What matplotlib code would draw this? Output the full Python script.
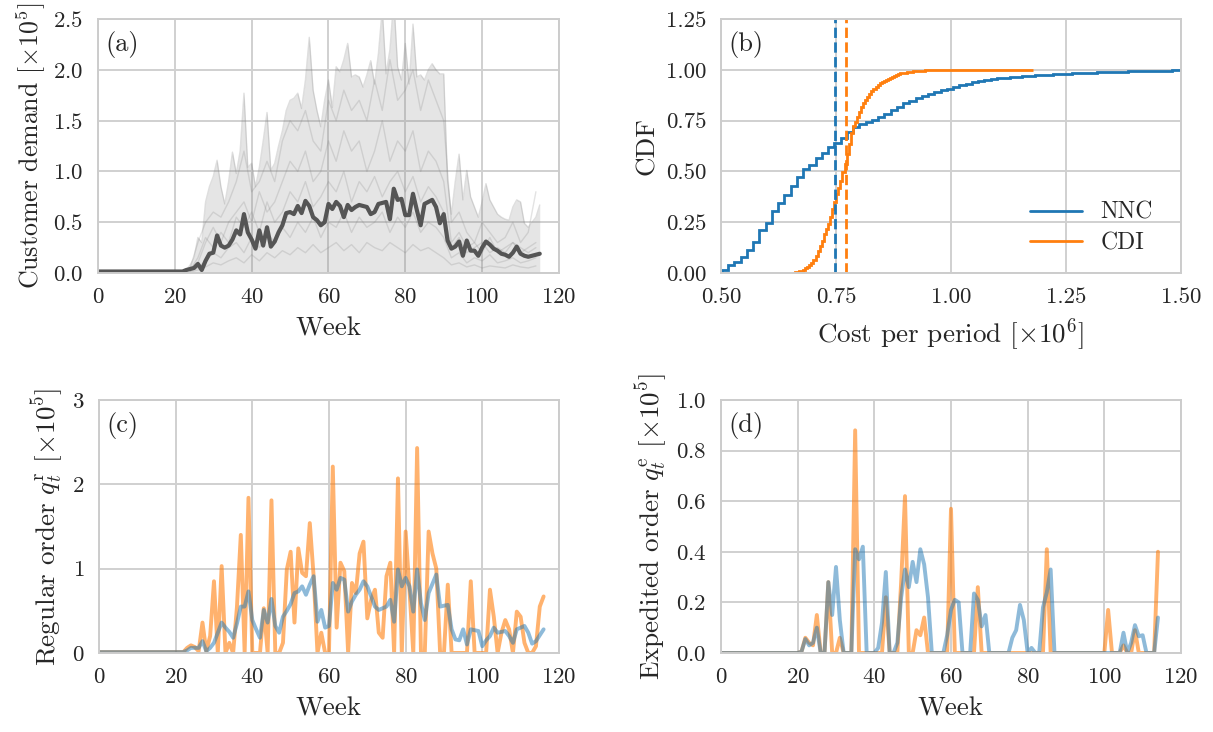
import numpy as np
import matplotlib
matplotlib.use("Agg")
import matplotlib.pyplot as plt
import seaborn as sns

# ---- data (demand / orders in units of 1e5, cost in 1e6) ----

# (a) customer demand: mean over samples, upper envelope, a few sample paths
demand_mean = [0.015] * 23 + [
    0.03, 0.04, 0.05, 0.09, 0.03, 0.12, 0.19, 0.20, 0.37, 0.27,
    0.25, 0.27, 0.33, 0.42, 0.38, 0.58, 0.40, 0.33, 0.24, 0.42,
    0.27, 0.45, 0.26, 0.31, 0.40, 0.47, 0.59, 0.60, 0.58, 0.66,
    0.59, 0.71, 0.66, 0.55, 0.52, 0.47, 0.50, 0.68, 0.63, 0.70,
    0.66, 0.55, 0.67, 0.62, 0.65, 0.67, 0.66, 0.65, 0.58, 0.60,
    0.68, 0.69, 0.70, 0.53, 0.83, 0.72, 0.73, 0.57, 0.57, 0.78,
    0.62, 0.47, 0.68, 0.70, 0.72, 0.65, 0.49, 0.58, 0.32, 0.24,
    0.26, 0.31, 0.17, 0.32, 0.22, 0.22, 0.17, 0.25, 0.31, 0.28,
    0.24, 0.22, 0.19, 0.18, 0.16, 0.20, 0.26, 0.19, 0.17, 0.16,
    0.17, 0.18, 0.19]
demand_max = [0.015] * 23 + [
    0.03, 0.08, 0.15, 0.35, 0.30, 0.70, 0.85, 0.95, 1.11, 0.85,
    0.68, 0.90, 1.19, 0.98, 1.20, 1.77, 1.04, 1.08, 0.85, 1.04,
    1.30, 1.58, 1.01, 1.08, 1.25, 1.40, 1.60, 1.70, 1.72, 1.77,
    1.62, 1.90, 2.32, 1.80, 1.60, 1.44, 1.70, 1.90, 1.63, 2.03,
    1.98, 2.10, 2.26, 1.93, 1.95, 1.93, 1.83, 1.95, 2.09, 1.86,
    2.16, 2.60, 1.96, 2.20, 2.70, 2.03, 1.90, 2.26, 1.86, 2.45,
    1.93, 1.95, 1.90, 2.00, 2.06, 2.00, 1.96, 1.96, 0.91, 0.58,
    0.90, 1.17, 0.72, 1.01, 0.75, 0.65, 0.55, 0.70, 0.88, 0.72,
    0.65, 0.58, 0.55, 0.53, 0.52, 0.65, 0.72, 0.70, 0.49, 0.45,
    0.50, 0.55, 0.67]
demand_min = 0.01

# sample paths, every second week from week 24
sample_1 = [0.05, 0.30, 0.50, 0.60, 0.55, 0.70, 0.90, 1.20, 0.80, 0.90,
            1.10, 0.90, 1.30, 1.50, 1.40, 1.60, 1.30, 1.20, 1.70, 1.50,
            1.80, 1.60, 1.70, 1.50, 1.90, 1.60, 2.10, 1.70, 1.80, 2.00,
            1.60, 1.90, 1.70, 1.50, 0.50, 0.60, 0.40, 0.30, 0.50, 0.40,
            0.30, 0.35, 0.50, 0.30, 0.40, 0.80]
sample_2 = [0.02, 0.10, 0.30, 0.45, 0.30, 0.50, 0.60, 0.70, 0.50, 0.80,
            0.60, 0.70, 0.90, 1.10, 1.00, 1.20, 0.90, 1.00, 1.30, 1.10,
            1.40, 1.20, 1.30, 1.00, 1.20, 1.50, 1.10, 1.30, 1.20, 1.40,
            1.00, 1.20, 1.10, 0.90, 0.30, 0.40, 0.25, 0.30, 0.20, 0.35,
            0.20, 0.25, 0.30, 0.20, 0.25, 0.30]
sample_3 = [0.02, 0.05, 0.12, 0.20, 0.15, 0.25, 0.30, 0.20, 0.35, 0.25,
            0.40, 0.30, 0.45, 0.35, 0.50, 0.40, 0.55, 0.35, 0.50, 0.45,
            0.60, 0.40, 0.55, 0.45, 0.50, 0.60, 0.40, 0.55, 0.45, 0.60,
            0.40, 0.50, 0.45, 0.35, 0.15, 0.20, 0.10, 0.15, 0.12, 0.18,
            0.10, 0.12, 0.15, 0.10, 0.12, 0.15]
sample_4 = [0.01, 0.03, 0.06, 0.10, 0.08, 0.12, 0.15, 0.10, 0.18, 0.12,
            0.20, 0.15, 0.22, 0.18, 0.25, 0.20, 0.28, 0.20, 0.25, 0.30,
            0.22, 0.28, 0.20, 0.30, 0.25, 0.22, 0.30, 0.25, 0.20, 0.28,
            0.22, 0.25, 0.20, 0.15, 0.08, 0.10, 0.06, 0.08, 0.05, 0.07,
            0.06, 0.05, 0.08, 0.06, 0.05, 0.07]
sample_5 = [0.03, 0.15, 0.35, 0.25, 0.40, 0.30, 0.55, 0.45, 0.60, 0.40,
            0.70, 0.50, 0.60, 0.80, 0.70, 0.90, 0.65, 0.75, 0.90, 0.80,
            1.00, 0.70, 0.90, 0.80, 0.95, 0.75, 0.90, 1.00, 0.80, 0.95,
            0.70, 0.85, 0.75, 0.60, 0.25, 0.35, 0.20, 0.25, 0.30, 0.20,
            0.25, 0.20, 0.30, 0.25, 0.20, 0.25]
demand_samples = [sample_1, sample_2, sample_3, sample_4, sample_5]

# (b) empirical CDF of cost per period (step values) and the means
nnc_start, nnc_width = 0.488, 0.0136
nnc_cdf = [0.008, 0.015, 0.039, 0.056, 0.080, 0.113, 0.154, 0.212, 0.244, 0.305,
           0.343, 0.384, 0.428, 0.471, 0.510, 0.531, 0.564, 0.589, 0.622, 0.638,
           0.663, 0.695, 0.718, 0.731, 0.742, 0.753, 0.768, 0.782, 0.800, 0.818,
           0.835, 0.848, 0.860, 0.870, 0.882, 0.892, 0.900, 0.906, 0.914, 0.924,
           0.932, 0.940, 0.946, 0.951, 0.955, 0.959, 0.962, 0.964, 0.967, 0.969,
           0.971, 0.973, 0.975, 0.977, 0.978, 0.980, 0.981, 0.982, 0.984, 0.985,
           0.986, 0.987, 0.988, 0.989, 0.990, 0.991, 0.992, 0.993, 0.993, 0.994,
           0.995, 0.995, 0.996, 0.997, 0.997]
cdi_start, cdi_width, cdi_end = 0.656, 0.0045, 1.178
cdi_cdf = [0.002, 0.004, 0.006, 0.008, 0.011, 0.016, 0.023, 0.030, 0.040, 0.050,
           0.066, 0.085, 0.107, 0.132, 0.160, 0.190, 0.215, 0.242, 0.277, 0.315,
           0.350, 0.388, 0.420, 0.455, 0.495, 0.535, 0.585, 0.635, 0.690, 0.722,
           0.745, 0.768, 0.792, 0.815, 0.835, 0.853, 0.868, 0.882, 0.895, 0.906,
           0.915, 0.924, 0.933, 0.941, 0.947, 0.952, 0.957, 0.962, 0.967, 0.971,
           0.975, 0.979, 0.982, 0.984, 0.986, 0.988, 0.990, 0.991, 0.992, 0.993,
           0.994, 0.995, 0.996, 0.996, 0.997, 0.999]
nnc_mean = 0.747
cdi_mean = 0.772

# (c) regular orders
regular_cdi = [0.01] * 23 + [
    0.06, 0.09, 0.07, 0.02, 0.36, 0.02, 0.20, 0.85, 0.0, 1.03,
    0.0, 0.12, 0.0, 0.55, 1.40, 0.0, 1.84, 0.0, 0.0, 0.0,
    0.53, 0.0, 1.81, 0.0, 0.0, 0.12, 0.99, 1.20, 0.36, 1.24,
    0.95, 0.91, 1.54, 0.91, 0.0, 0.24, 0.0, 0.0, 2.21, 0.30,
    1.07, 0.97, 0.0, 0.83, 0.71, 1.18, 1.32, 0.41, 0.63, 0.75,
    0.24, 0.18, 0.91, 1.07, 0.0, 2.07, 0.0, 1.44, 0.75, 0.0,
    2.43, 0.0, 0.0, 1.44, 1.18, 1.00, 0.0, 0.0, 0.81, 0.0,
    0.0, 0.0, 0.0, 0.0, 0.85, 0.0, 0.0, 0.0, 0.0, 0.75,
    0.43, 0.0, 0.24, 0.39, 0.28, 0.0, 0.49, 0.43, 0.12, 0.0,
    0.0, 0.08, 0.55, 0.67]
regular_nnc = [0.01] * 23 + [
    0.03, 0.06, 0.06, 0.06, 0.14, 0.02, 0.06, 0.12, 0.24, 0.36,
    0.30, 0.25, 0.18, 0.35, 0.55, 0.55, 0.73, 0.39, 0.28, 0.18,
    0.51, 0.36, 0.64, 0.32, 0.24, 0.43, 0.50, 0.58, 0.71, 0.73,
    0.79, 0.69, 0.81, 0.91, 0.37, 0.51, 0.30, 0.32, 0.83, 0.75,
    0.89, 0.87, 0.49, 0.61, 0.69, 0.75, 0.85, 0.79, 0.67, 0.55,
    0.51, 0.53, 0.55, 0.63, 0.37, 0.99, 0.79, 0.89, 0.79, 0.49,
    0.99, 0.59, 0.39, 0.71, 0.82, 0.93, 0.55, 0.56, 0.57, 0.28,
    0.16, 0.15, 0.28, 0.10, 0.28, 0.27, 0.26, 0.08, 0.15, 0.20,
    0.30, 0.24, 0.25, 0.26, 0.20, 0.12, 0.28, 0.30, 0.32, 0.24,
    0.11, 0.14, 0.21, 0.28]

# (d) expedited orders
expedited_cdi = ([0.0] * 21
                 + [0.005, 0.06, 0.04, 0.03, 0.15, 0.0, 0.0, 0.28, 0.0, 0.0,
                    0.06, 0.0, 0.0, 0.0, 0.88, 0.0]
                 + [0.0] * 6 + [0.22, 0.0, 0.0, 0.0]
                 + [0.28, 0.62, 0.0, 0.0, 0.09, 0.07, 0.14, 0.0]
                 + [0.0] * 5 + [0.57] + [0.0] * 6 + [0.26] + [0.0] * 17
                 + [0.41] + [0.0] * 15
                 + [0.17, 0.0, 0.0, 0.0, 0.03, 0.0, 0.0, 0.09, 0.0, 0.0,
                    0.0, 0.0, 0.0, 0.40])
expedited_nnc = ([0.0] * 21
                 + [0.005, 0.055, 0.03, 0.04, 0.10, 0.0, 0.0, 0.28, 0.15, 0.34,
                    0.13, 0.0, 0.0, 0.0, 0.41, 0.37, 0.42, 0.0, 0.0, 0.0,
                    0.02, 0.12, 0.32, 0.0, 0.0, 0.04, 0.22, 0.33, 0.26, 0.36,
                    0.28, 0.41, 0.35, 0.22]
                 + [0.0] * 4 + [0.07, 0.17, 0.21, 0.20] + [0.0] * 3
                 + [0.235, 0.21, 0.105, 0.15] + [0.0] * 6
                 + [0.06, 0.09, 0.19, 0.13, 0.0, 0.02, 0.0, 0.0, 0.18, 0.24, 0.33]
                 + [0.0] * 18
                 + [0.08, 0.0, 0.04, 0.11, 0.066, 0.07, 0.0, 0.0, 0.0, 0.14])

# ---- style ----
sns.set_style("whitegrid")
plt.rcParams["font.family"] = "serif"
plt.rcParams["font.serif"] = ["cmr10", "DejaVu Serif"]
plt.rcParams["mathtext.fontset"] = "cm"
plt.rcParams["axes.formatter.use_mathtext"] = True
plt.rcParams["font.size"] = 17
plt.rcParams["axes.labelsize"] = 19.5
plt.rcParams["xtick.labelsize"] = 16.5
plt.rcParams["ytick.labelsize"] = 16.5
plt.rcParams["xtick.major.pad"] = 7
plt.rcParams["ytick.major.pad"] = 7
plt.rcParams["axes.labelpad"] = 5
plt.rcParams["grid.linewidth"] = 1.4
plt.rcParams["grid.color"] = "#d0d0d0"

blue = "#1f77b4"
orange = "#ff7f0e"

fig = plt.figure(figsize=(12.13, 7.32), dpi=100)
ax_a = fig.add_axes([0.0808, 0.627, 0.380, 0.347])
ax_b = fig.add_axes([0.5944, 0.627, 0.3792, 0.347])
ax_c = fig.add_axes([0.0816, 0.108, 0.3792, 0.3456])
ax_d = fig.add_axes([0.5944, 0.108, 0.3792, 0.3456])

# (a)
weeks_a = np.arange(len(demand_mean))
ax_a.fill_between(weeks_a, demand_min, demand_max, color="gray", alpha=0.2, lw=0)
ax_a.plot(weeks_a, demand_max, color="gray", alpha=0.25, lw=1)
for s in demand_samples:
    ax_a.plot(24 + 2 * np.arange(len(s)), s, color="gray", alpha=0.22, lw=1)
ax_a.plot(weeks_a, demand_mean, color="#555555", lw=3)
ax_a.set_xlim(0, 120)
ax_a.set_ylim(0, 2.5)
ax_a.set_yticks([0.0, 0.5, 1.0, 1.5, 2.0, 2.5])
ax_a.set_xlabel("Week", labelpad=7)
ax_a.set_ylabel(r"Customer demand [$\times10^5$]", fontsize=18.6, labelpad=4)

# (b)
nnc_edges = nnc_start + nnc_width * np.arange(len(nnc_cdf) + 1)
cdi_edges = np.append(cdi_start + cdi_width * np.arange(len(cdi_cdf)), cdi_end)
ax_b.stairs(nnc_cdf, nnc_edges, baseline=None, color=blue, lw=2, label="NNC")
ax_b.stairs(cdi_cdf, cdi_edges, baseline=None, color=orange, lw=2, label="CDI")
ax_b.axvline(nnc_mean, color=blue, ls="--", lw=2)
ax_b.axvline(cdi_mean, color=orange, ls="--", lw=2)
ax_b.set_xlim(0.5, 1.5)
ax_b.set_ylim(0, 1.25)
ax_b.set_xticks([0.50, 0.75, 1.00, 1.25, 1.50])
ax_b.set_yticks([0.00, 0.25, 0.50, 0.75, 1.00, 1.25])
ax_b.xaxis.set_major_formatter(plt.FormatStrFormatter("%.2f"))
ax_b.yaxis.set_major_formatter(plt.FormatStrFormatter("%.2f"))
ax_b.set_xlabel(r"Cost per period [$\times10^6$]", labelpad=7)
ax_b.set_ylabel("CDF")
ax_b.legend(loc="lower right", frameon=False, handlelength=2.2, fontsize=17,
            bbox_to_anchor=(0.985, -0.01), labelspacing=0.35)

# (c)
ax_c.plot(np.arange(len(regular_cdi)), regular_cdi, color=orange, alpha=0.6, lw=2.8)
ax_c.plot(np.arange(len(regular_nnc)), regular_nnc, color=blue, alpha=0.5, lw=2.8)
ax_c.set_xlim(0, 120)
ax_c.set_ylim(0, 3)
ax_c.set_yticks([0, 1, 2, 3])
ax_c.set_xlabel("Week", labelpad=7)
ax_c.set_ylabel(r"Regular order $q_t^{\mathrm{r}}$ [$\times10^5$]")

# (d)
ax_d.plot(np.arange(len(expedited_cdi)), expedited_cdi, color=orange, alpha=0.6, lw=2.8)
ax_d.plot(np.arange(len(expedited_nnc)), expedited_nnc, color=blue, alpha=0.5, lw=2.8)
ax_d.set_xlim(0, 120)
ax_d.set_ylim(0, 1.0)
ax_d.set_yticks([0.0, 0.2, 0.4, 0.6, 0.8, 1.0])
ax_d.set_xlabel("Week", labelpad=7)
ax_d.set_ylabel(r"Expedited order $q_t^{\mathrm{e}}$ [$\times10^5$]")

for ax in [ax_a, ax_c, ax_d]:
    ax.set_xticks([0, 20, 40, 60, 80, 100, 120])

for ax, tag in zip([ax_a, ax_b, ax_c, ax_d], ["(a)", "(b)", "(c)", "(d)"]):
    ax.text(0.016, 0.9, tag, transform=ax.transAxes, va="center", ha="left",
            fontsize=19)
    for sp in ax.spines.values():
        sp.set_color("#cccccc")
        sp.set_linewidth(1.4)

fig.savefig("out.png", dpi=100)
